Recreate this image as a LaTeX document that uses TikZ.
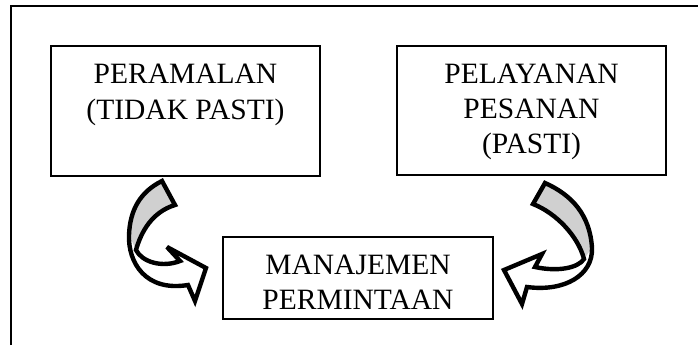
\documentclass[tikz,border=0pt]{standalone}
\usepackage{fontspec}
\setmainfont{Liberation Serif}
\definecolor{ribbongray}{RGB}{208,208,208}
\tikzset{
  frameline/.style={line width=2pt, black},
  boxnode/.style={draw=black, line width=1.7pt, fill=white, inner sep=0pt},
  lbl/.style={font=\fontsize{29.5}{35.5}\selectfont, inner sep=0pt, anchor=base},
  arrowline/.style={draw=black, line width=4.4pt, line join=miter, miter limit=4},
}
\begin{document}
\begin{tikzpicture}[x=1pt,y=-1pt]
\useasboundingbox (0,0) rectangle (698,345);
% frame (left and top lines)
\coordinate (fbl) at (11,345);
\coordinate (ftl) at (11,6);
\coordinate (ftr) at (698,6);
\draw[frameline] (fbl) -- (ftl) -- (ftr);
% boxes
\node[boxnode, minimum width=269pt, minimum height=130pt] (b1) at (185.5,111) {};
\node[boxnode, minimum width=269pt, minimum height=129pt] (b2) at (531.5,110.5) {};
\node[boxnode, minimum width=270pt, minimum height=82pt] (b3) at (358,278) {};
% texts
\node[lbl] (t1a) at (185.5,83) {PERAMALAN};
\node[lbl] (t1b) at (185.5,119) {(TIDAK PASTI)};
\node[lbl] (t2a) at (531.5,83) {PELAYANAN};
\node[lbl] (t2b) at (531.5,118) {PESANAN};
\node[lbl] (t2c) at (531.5,153) {(PASTI)};
\node[lbl] (t3a) at (358,274) {MANAJEMEN};
\node[lbl] (t3b) at (358,309) {PERMINTAAN};
% left curved arrow
\fill[white] (162,181) .. controls (140,192) and (130,210) .. (129,235)
  .. controls (128,262) and (145,292) .. (188,285)
  -- (195,301) -- (206,268) -- (167,247) -- (180,261)
  .. controls (162,268) and (142,262) .. (136,250)
  .. controls (141,232) and (152,212) .. (175,205) -- cycle;
\fill[ribbongray] (162,181) .. controls (140,192) and (130,210) .. (129,235)
  -- (136,250) .. controls (141,232) and (152,212) .. (175,205) -- cycle;
\draw[arrowline] (162,181) .. controls (140,192) and (130,210) .. (129,235)
  .. controls (128,262) and (145,292) .. (188,285)
  -- (195,301) -- (206,268) -- (167,247) -- (180,261)
  .. controls (162,268) and (142,262) .. (136,250)
  .. controls (141,232) and (152,212) .. (175,205) -- cycle;
% right curved arrow
\fill[white] (545,183) .. controls (572,195) and (590,215) .. (592,248)
  .. controls (593,275) and (565,292) .. (527,287)
  -- (522,304) -- (504,270) -- (542,254) -- (535,267)
  .. controls (558,272) and (578,268) .. (584,259)
  .. controls (578,236) and (556,213) .. (533,204) -- cycle;
\fill[ribbongray] (545,183) .. controls (572,195) and (590,215) .. (592,248)
  -- (584,259) .. controls (578,236) and (556,213) .. (533,204) -- cycle;
\draw[arrowline] (545,183) .. controls (572,195) and (590,215) .. (592,248)
  .. controls (593,275) and (565,292) .. (527,287)
  -- (522,304) -- (504,270) -- (542,254) -- (535,267)
  .. controls (558,272) and (578,268) .. (584,259)
  .. controls (578,236) and (556,213) .. (533,204) -- cycle;
\end{tikzpicture}
\end{document}
